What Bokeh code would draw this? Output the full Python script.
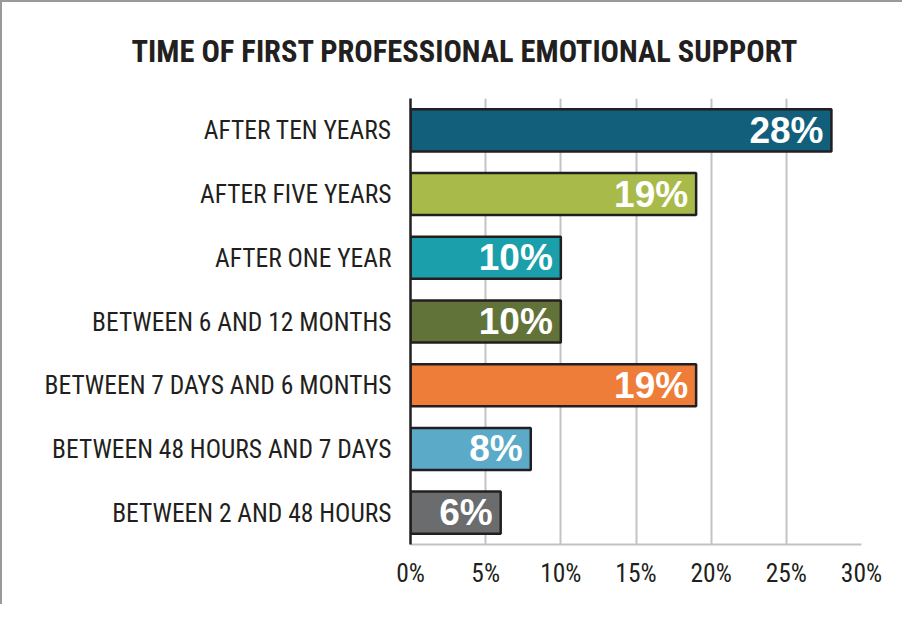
from bokeh.plotting import figure
from bokeh.models import FactorRange, Range1d, ColumnDataSource, FixedTicker, LabelSet
from bokeh.core.properties import value
from bokeh.embed import file_html
from bokeh.resources import INLINE

categories = ["AFTER TEN YEARS", "AFTER FIVE YEARS", "AFTER ONE YEAR",
              "BETWEEN 6 AND 12 MONTHS", "BETWEEN 7 DAYS AND 6 MONTHS",
              "BETWEEN 48 HOURS AND 7 DAYS", "BETWEEN 2 AND 48 HOURS"]
values = [28, 19, 10, 10, 19, 8, 6]
colors = ["#125f7c", "#a8bb4a", "#1b9faa", "#62733a", "#ef7d3a", "#5aaac8", "#6b6c6e"]
x_ticks = [0, 5, 10, 15, 20, 25, 30]
x_tick_labels = ["0%", "5%", "10%", "15%", "20%", "25%", "30%"]
title_text = "TIME OF FIRST PROFESSIONAL EMOTIONAL SUPPORT"

NARROW = "'Roboto Condensed', 'Liberation Sans Narrow', 'DejaVu Sans Condensed', sans-serif"

src = ColumnDataSource(dict(cat=categories, val=values, color=colors,
                            lbl=[f"{v}%" for v in values]))

p = figure(y_range=FactorRange(factors=list(reversed(categories)), range_padding=0),
           x_range=Range1d(0, 30),
           frame_width=451, frame_height=446,
           min_border_left=408, min_border_right=41, min_border_top=96, min_border_bottom=60,
           output_backend="svg", toolbar_location=None)

p.hbar(y="cat", right="val", left=0, height=0.66, source=src,
       fill_color="color", line_color="#231f20", line_width=2.5)

labels = LabelSet(x="val", y="cat", text="lbl", source=src, x_offset=-8,
                  text_align="right", text_baseline="middle",
                  text_color="white", text_font=value("Liberation Sans"),
                  text_font_style="bold", text_font_size="37px")
p.add_layout(labels)

p.title.text = title_text
p.title.align = "left"
p.title.offset = -279
p.title.text_font = NARROW
p.title.text_font_style = "bold"
p.title.text_font_size = "30.5px"
p.title.text_color = "#231f20"
p.title.standoff = 59

p.outline_line_color = None
p.ygrid.grid_line_color = None
p.xgrid.grid_line_color = "#c3c3c6"
p.xgrid.grid_line_width = 2
p.xgrid.ticker = FixedTicker(ticks=x_ticks)

p.xaxis.ticker = FixedTicker(ticks=x_ticks)
p.xaxis.major_label_overrides = dict(zip(x_ticks, x_tick_labels))
p.xaxis.axis_line_color = "#c3c3c6"
p.xaxis.axis_line_width = 2
p.xaxis.major_tick_line_color = None
p.xaxis.minor_tick_line_color = None
p.xaxis.major_label_text_font = NARROW
p.xaxis.major_label_text_font_size = "25.5px"
p.xaxis.major_label_text_color = "#231f20"
p.xaxis.major_label_standoff = 7

p.yaxis.axis_line_color = "#231f20"
p.yaxis.axis_line_width = 2.5
p.yaxis.major_tick_line_color = None
p.yaxis.minor_tick_line_color = None
p.yaxis.major_label_text_font = NARROW
p.yaxis.major_label_text_font_size = "25.5px"
p.yaxis.major_label_text_color = "#231f20"
p.yaxis.major_label_standoff = 13

p.styles = {"border-top": "2px solid #9a9a9a", "border-left": "2px solid #9a9a9a"}

open("out.html", "w").write(file_html(p, INLINE))
